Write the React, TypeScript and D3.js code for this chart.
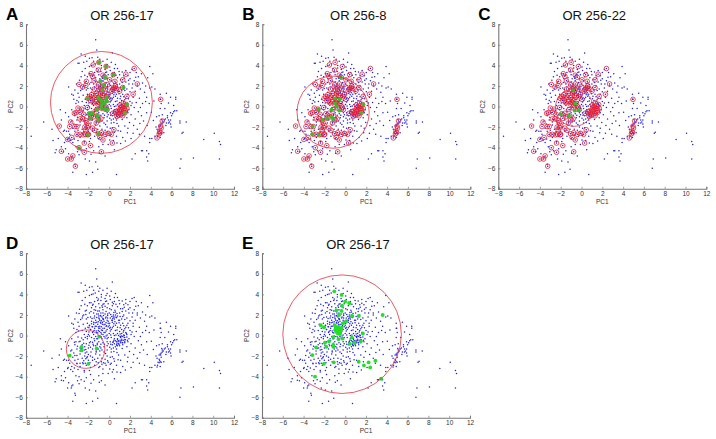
import React, { useRef, useEffect } from "react";
import * as d3 from "d3";

type Pt = [number, number];

const xTicks = [-8, -6, -4, -2, 0, 2, 4, 6, 8, 10, 12];
const yTicks = [-8, -6, -4, -2, 0, 2, 4, 6, 8];

// all samples
const cloud: Pt[] = [
  [-7.5,-2.9],[-6.3,-1.5],[-5.5,-2.2],[-5.4,-3.3],[-5.1,-4.2],[-5.2,-4.5],[-4.6,-1.3],[-4.7,-.3],[-4.3,-3.5],[-4.4,-4.4],
  [-3.9,-4.6],[-3.6,-4.9],[-3.5,-6.4],[-3.3,-5.6],[-2.3,-5.1],[-4.9,-3.1],[-4.6,-3.9],[-4.2,-4.1],[-4.1,-2.4],[-4.3,-2.3],
  [-4.4,-2.4],[-3.9,-2.4],[-3.8,-2.7],[-3.7,-3.3],[-3.5,-3.5],[-3.2,-3.9],[-2.9,-4.7],[-2.7,-4.3],[-1.9,-5.3],[-1.3,-5.4],
  [-1.1,-6.1],[-2.2,-6.6],[-1.6,-6.4],[.7,-6.6],[-.4,-4.8],[-1.5,-4.3],[-1,-3.9],[-.1,-3.7],[.5,-4.2],[1.1,-3.6],
  [2.2,-5.1],[2.5,-4.6],[3.1,-4.3],[3.2,-4.3],[3.6,-4.3],[3.6,-4.9],[3.7,-5.3],[3.8,-4.6],[3.9,-3.5],[4.1,-3.1],
  [3.9,-3.1],[4.4,-2.9],[4.7,-2.6],[4.8,-2.3],[4.5,-2],[4.6,-2.2],[4.8,-1.9],[4.9,-1.8],[5,-1.7],[5.1,-1.6],
  [5.2,-1.5],[5.3,-1.3],[5.4,-1.2],[5.6,-1.1],[5.7,-1.3],[5.8,-1.5],[5.9,-1.3],[5.7,-1.6],[5.5,-1.6],[5.9,-1.7],
  [6,-.9],[6.1,-.7],[6.2,-.5],[6.3,-.4],[6.5,-.4],[5.9,-.6],[5.6,-.9],[6.4,.9],[6.4,.7],[5.9,.9],
  [5.5,1.3],[4.9,.7],[4.9,1.2],[5,.3],[4.9,-.2],[4.8,-.9],[5.1,-.8],[5,-2.6],[4.9,-3],[6.8,-1.4],
  [6.8,-1.6],[7.4,-1.5],[7.1,-2.5],[7,-2.6],[6.9,-5.1],[6.8,-6],[8.1,-5],[9.1,-3.2],[10.1,-2.6],[10.6,-3.4],
  [10.7,-3.7],[10.6,-5.1],[3.9,3.9],[4.2,3.2],[3.7,2.8],[3.5,2],[3.9,1.8],[4.1,1.9],[3.4,1.4],[3.6,.9],
  [3,1.7],[3.2,2.3],[2.8,2.9],[2.6,3.3],[2.2,3.6],[2.7,2],[2.4,2.5],[2.2,1.8],[2.9,.8],[3.2,.3],
  [3.6,-.6],[3.1,-.9],[2.8,-.5],[3.3,-1.4],[2.5,-1.2],[2.7,-2.2],[2.3,-2.6],[2.1,-3.1],[2.9,-2.7],[3.4,-2.9],
  [1.8,-2.1],[1.5,-1.9],[1.1,-2.4],[.7,-2.9],[1.3,-3],[.4,-3.3],[.9,-1.9],[.2,-1.6],[-.2,-2],[-.5,-1.6],
  [-.9,-1.9],[-1.3,-1.8],[-1.8,-2],[-2.3,-1.7],[-2.8,-1.8],[-3.3,-2.4],[-3.6,-1.4],[-3.9,-1],[-4.2,-.6],[-3.6,-.3],
  [-3.2,.3],[-3.1,.6],[-3.4,.7],[-2.9,.9],[-3,1.3],[-3.3,1.6],[-3.9,1.9],[-3.6,1.2],[-2.7,2.9],[-2.6,3.4],
  [-2.3,4.9],[-2.7,5.1],[-1.9,4.7],[-2.9,4.2],[-3,4.2],[-2.3,3.7],[-1.9,3.9],[-1.2,5.5],[-1.3,6.5],[.3,5.2],
  [-1.1,4.8],[-.9,4.6],[-.6,4.4],[-.2,4.6],[.2,4.3],[.6,4.1],[.8,3.7],[-1.5,4.4],[-1.7,4],[-1.2,3.7],
  [-.8,3.4],[-.4,3.6],[.1,3.5],[.5,3.3],[1,3.1],[1.4,3],[1.8,3],[2,2.7],[1.6,2.4],[1.1,2.6],
  [.8,2.8],[.3,2.9],[-.1,3.1],[-.5,3.1],[-1,3.1],[-1.4,3.3],[-1.9,3.2],[-2.1,2.9],[-1.7,2.7],[-1.3,2.8],
  [-.9,2.7],[-.6,2.5],[-.2,2.7],[.2,2.5],[.6,2.3],[1,2.2],[1.4,2],[1.9,2.2],[1.7,1.7],[1.2,1.6],
  [.8,1.9],[.4,2],[0,2.2],[-.4,2.1],[-.8,2.2],[-1.1,2.4],[-1.5,2.2],[-1.9,2.2],[-2.3,2.4],[-2.6,1.7],
  [-2.2,1.6],[-1.8,1.8],[-1.4,1.9],[-1,1.9],[-.7,1.8],[-.3,1.8],[.1,1.7],[.5,1.6],[.9,1.5],[1.3,1.2],
  [1.8,1.2],[2.3,.9],[2,.5],[1.6,.8],[1.1,1],[.7,1.2],[.3,1.3],[-.1,1.4],[-.5,1.4],[-.9,1.5],
  [-1.3,1.5],[-1.7,1.4],[-2.1,1.2],[-2.5,1.1],[-2.6,.5],[-2.2,.4],[-1.9,1],[-1.5,1.1],[-1.1,1.1],[-.8,1.2],
  [-.4,1.1],[0,1],[.4,.9],[.8,.8],[1.2,.6],[.6,.5],[.2,.6],[-.2,.6],[-.6,.7],[-1,.7],
  [-1.4,.7],[-1.8,.6],[-2.4,.1],[-2,.1],[-1.6,.3],[-1.2,.3],[-.8,.3],[-.4,.3],[0,.2],[.4,.2],
  [.8,.2],[1.2,.2],[1.6,.3],[2.1,.1],[2.4,-.1],[1.9,-.3],[1.5,-.2],[1.1,-.2],[.8,-.3],[.5,-.3],
  [.2,-.2],[-.1,-.2],[-.5,-.1],[-.9,-.1],[-1.3,-.1],[-1.7,-.2],[-2.1,-.3],[-2.5,-.4],[-2.9,-.6],[-3.3,-.9],
  [-2.6,-.9],[-2.2,-.8],[-1.8,-.6],[-1.4,-.5],[-1,-.6],[-.6,-.7],[-.2,-.6],[.1,-.6],[.4,-.6],[.7,-.6],
  [.9,-.5],[1.2,-.5],[1.5,-.4],[1.8,-.6],[2.1,-.8],[.3,-.9],[.5,-.8],[.7,-.9],[.9,-.8],[1.1,-.7],
  [1.3,-.7],[1.5,-.7],[.6,-1.1],[.8,-1],[1,-1],[.4,-1.2],[.7,-1.3],[.2,-1.3],[-.2,-1],[-.5,-1.1],
  [-.9,-1.1],[-1.3,-1],[-1.6,-1.3],[-2,-1.2],[-2.4,-1.4],[-2.8,-1.5],[-3.1,-1.3],[-3.4,-1.7],[-.9,-1.5],[-.2,-1.4],
  [.1,-2.1],[-.4,-2.3],[-.7,-2.2],[-1.1,-2.2],[-1.6,-2.4],[-2,-2.4],[-2.6,-2.2],[-3,-2.3],[-2.8,-3],[-2.2,-2.9],
  [-1.8,-3.1],[-1.4,-2.9],[-1,-3.1],[-.7,-2.8],[-.3,-2.9],[.1,-2.8],[.5,-2.5],[-2.4,-3.4],[-1.9,-3.4],[-3,-3.3],
  [-1,1.7],[-.6,1.6],[-.2,1.5],[.3,1.5],[-.7,2.9],[-1.2,2.1],[-.9,.9],[-.3,.9],[.1,.8],[.6,1],
  [1,.4],[1.4,.5],[1.7,.1],[1.3,-.1],[.9,0],[.5,0],[-.7,-.3],[-1.1,-.3],[-1.5,.1],[-2.3,.7],
  [2.5,1.5],[2.6,.4],[3,-.1],[3.5,.5],[4.4,1.7],[3.1,3.2],[2,3.3],[1.6,3.5],[.5,3.7],[-.2,4.1],
  // second pass over the dense middle and the fringe
  [-2.45,4.3],[-2.15,4.4],[-1.65,4.75],[-1.35,4.15],[-.75,4],[.05,3.85],[.95,3.4],[1.25,3.35],[1.85,2.55],[2.25,2.2],
  [2.55,2.85],[1.45,2.75],[.65,3.05],[-.25,3.35],[-.65,2.75],[-1.55,3.05],[-2.35,3.05],[-2.85,2.55],[-3.15,2.2],[-3.45,1.1],
  [-2.95,.45],[-2.75,1.55],[-2.45,2],[-2.05,1.75],[-1.65,1.65],[-1.2,1.75],[-.85,1.95],[-.55,1.95],[-.15,1.95],[.25,1.85],
  [.7,1.75],[1.05,1.85],[1.5,1.55],[2,1.45],[1.4,.95],[.95,1.25],[.45,1.15],[.05,1.2],[-.3,1.25],[-.65,1.3],
  [-1.05,1.35],[-1.5,1.3],[-1.95,.75],[-1.65,.85],[-1.25,.9],[-.75,.85],[-.45,.7],[-.1,.85],[.3,.75],[.75,.55],
  [1.05,.75],[1.5,.65],[1.85,.75],[2.2,.35],[.1,.45],[-.3,.45],[-.65,.5],[-1.05,.5],[-1.45,.5],[-1.95,.35],
  [-2.3,-.2],[-1.9,-.05],[-1.45,-.3],[-1.05,-.05],[-.6,.1],[-.2,.05],[.15,.05],[.65,.05],[1.05,-.1],[1.45,0],
  [1.75,-.45],[1.35,-.45],[1.05,-.6],[.75,-.75],[.45,-.45],[.15,-.85],[-.1,-.8],[-.45,-.85],[-.8,-.85],[-1.15,-.75],
  [-1.55,-.85],[-1.95,-.95],[-2.35,-1.1],[-2.7,-1.25],[-3.05,-1.05],[-3.5,-2.1],[-3.1,-2.75],[-2.55,-2.65],[-2.15,-2.15],[-1.75,-1.6],
  [-1.25,-1.5],[-.7,-1.4],[-.35,-1.75],[.05,-1.15],[.45,-1.55],[.75,-1.65],[1.25,-1.25],[1.7,-1.1],[1.95,-1.55],[2.35,-1.85],
  [2.95,-1.65],[3.65,-1.85],[4.25,-1.35],[4.05,-.55],[4.3,.55],[3.85,.3],[4.55,-1],[5.35,-.2],[5.7,.35],[6.2,.1],
  [5.25,-2.55],[5.45,-1.85],[5.05,-1.25],[5.95,-2],[4.65,-2.9],[.85,-2.35],[.3,-2.05],[-.15,-2.45],[-.55,-2.65],[-1.25,-2.55],
  [-1.85,-2.65],[-2.45,-2.45],[-3.35,-3.15],[-3.95,-3.1],[-3.05,-4.4],[-2.2,-4.1],[-1.75,-4.65],[-.95,-4.55],[-.6,-3.7],[.05,-3.25],
  [.75,-3.55],[1.55,-3.35],[1.75,-2.55],[-.75,3.75],[-1.1,3.4],[-.35,3.3],[.3,3.25],[-.95,2.4],[-.3,2.35],[.45,2.25],
  [-.55,1.55],[-1.3,2.45],[-1.75,2.35],[.15,2.05],[.75,2.15],[1.25,2.35],[-.75,1.45],[-.15,1.7],[.55,1.35],[-1.35,1.25],
];

// samples circled in red in A, B and C
const ringed: Pt[] = [
  [-4.8,-1.9],[-4.6,-4.35],[-4,-3.2],[-4,-5.1],[-3.65,-5.1],[-3.5,-4.8],[-3.25,-5.8],[-2.9,-4],[-2.4,-4.45],[-2.4,-3.55],
  [-1.8,-3.8],[-.75,-4.4],[.3,-3.55],[-.6,-3.25],[-.9,-3],[-1.05,-2.65],[-.4,-2.7],[-.1,-2.6],[.2,-2.7],[.45,-2.25],
  [-1.4,-2.3],[-2,-2.7],[-2.3,-2.7],[-2.8,-2.7],[-3.1,-2.7],[-3.6,-3],[-3.8,-1.95],[-3.3,-1.95],[-3.1,-1.95],[-3.7,-1.5],
  [-2.8,-1.2],[-2.55,-1.2],[-2.25,-1.35],[-2,-1.85],[-2.25,-2.25],[-2.1,-2.05],[-3.2,-.6],[-3,-.15],[-2.65,-.25],[-2.8,-.55],
  [-2.9,2.15],[-2.2,2.45],[-2.25,2.05],[-2.55,1.9],[-2.05,.8],[-1.8,.6],[-1.55,.4],[-1.75,3.2],[-1.6,2.95],[-1.45,2.5],
  [-1.55,4.05],[-1,4.3],[-1.05,3.55],[-.3,3.9],[-.6,3.05],[-.4,2.85],[.05,2.6],[.55,2.45],[.4,3.1],[1.6,3.15],
  [1.3,2.6],[2.4,3.7],[2.7,2.2],[2.3,1.2],[1.3,1.85],[.4,1.8],[.55,1.8],[1.65,.2],[1.35,.35],[1.2,-.05],
  [4.95,.7],[5.1,-1.4],[4.95,-1.9],[4.85,-2.4],[4.8,-2.65],[4.6,-3.05],[-1.05,2.1],[-.8,1.9],[-.95,1.6],[-1.2,1.3],
  [-.6,2.2],[-.35,1.7],[-.15,2.1],[.25,1.5],[-1.35,.9],[-1.05,.85],[-.9,.7],[-.75,.55],[-.25,.95],[-.5,1.05],
  [.05,.7],[-1.25,.45],[-.5,.3],[-.75,.15],[-.3,-.05],[-1.2,-.3],[-.75,-.15],[-.4,-.25],[-.2,-.3],[-1.9,-.7],
  [-1.6,-.65],[-1.8,-1.15],[-1.15,-.9],[-1.05,-1.3],[-1.5,-1],[-.8,-1.2],[.6,-.5],[.85,-.6],[1.05,-.45],[1.25,-.7],
  [1.5,-.6],[.95,-.85],[1.2,-.35],[1.45,-.2],[.75,-.95],[1.7,-.15],[1.05,.15],[-.75,-2.55],[-1.6,-2.1],[-2.45,-.75],
  [-2.1,-.1],[-3.35,-.65],[-2.05,-2.75],[1,1.5],[1.7,1],[.6,2],[-.1,1.2],[-.65,1.1],[-1.45,1.7],[-1.7,1.15],
  [5,-2.1],[4.9,-2.55],[-2.35,-2],[-2.15,-1.6],[-2.5,-2.75],[-1.25,-1.6],[-.6,1.65],[-.85,1.3],[.7,1.75],[.35,1.65],
  [-1.1,.25],[-.95,.4],[-1.6,.85],[-1.9,.95],[1.55,-.4],[1.3,-.9],[1.1,-.1],[1.4,.05],[.8,-.4],[.35,-.65],
];

const greenA: Pt[] = [
  [-1,4.3],[-.3,3.9],[.4,3.1],[-.4,2.85],[-.85,2.5],[-.5,2.1],[-.65,1.6],[1.35,1.85],[-2.05,.8],[-1.05,.85],
  [-.9,.7],[-.75,.55],[-.25,.95],[-.3,.65],[-.5,.3],[-.75,.15],[-.2,.5],[1.7,.2],[1.5,-.6],[-1.2,-.3],
  [-.75,-.15],[-.4,-.25],[-.2,-.3],[-1.9,-.7],[-1.6,-.65],[-1.8,-1.15],[-1.15,-.9],[-1.05,-1.3],[-2.05,-2.75],[-1.05,-2.65],
  [-2.9,-4.05],
];
const greenB: Pt[] = [
  [-.45,2.85],[-1,.8],[-.55,.7],[-1,.3],[-.85,0],[-1.35,-.3],[-.6,-.4],[-2.6,-.25],[1.7,.2],[1.5,-.6],
  [-2.2,-1.3],[-1.8,-1.15],[-1.35,-1],[-1.2,-1.2],[-3.15,-1.95],[-3.2,-2.7],[-2.55,-2.75],
];
const greenC: Pt[] = [[-.8,1.6],[-.6,.3],[-.25,-.35],[-.65,-.4],[-2,-.75],[-1.2,-.9]];
const greenD: Pt[] = [[-.95,-.1],[-2.65,-1.1],[-2.65,-1.45],[-1.2,-1.25],[-3.8,-1.95],[-2,-2.75]];
const greenE: Pt[] = [
  [-1.05,4.3],[-.35,3.95],[0,3.3],[.4,3.15],[-.3,2.9],[-.85,2.45],[-.35,2.4],[-.6,2],[.65,1.9],[1.3,1.9],
  [3.6,2],[.1,1.4],[-.2,1.2],[-2.35,1],[-2.05,.8],[-1,1],[-.65,.85],[-.95,.6],[-.6,.5],[-.35,.75],
  [-.85,.35],[-.5,.3],[1.7,.2],[.65,-.2],[-1.15,-.15],[-.65,-.35],[-.25,-.3],[1.5,-.55],[.45,-.8],[.9,-.7],
  [-1.95,-.7],[-1.55,-.55],[-1.15,-.9],[-1.15,-1.1],[-1.8,-1.1],[-2.8,-1.15],[-3.15,-1.9],[-2.05,-2.75],[-1.1,-2.6],[1.3,-2.55],
  [2.25,-2.6],[2.9,-2.45],[1.8,-2.9],[2.4,-3.1],[3.45,-4.2],[-2.9,-4],
  [-.75,.6],[-.45,.55],[-.7,.2],[-.5,.15],[-.8,.75],
];

const panels = [
  { letter: "A", title: "OR 256-17", left: 26, top: 24.3, rings: true, green: greenA, greenFill: "#38bc2a", circle: [-.75, .4, 4.9] },
  { letter: "B", title: "OR 256-8", left: 262.3, top: 24.3, rings: true, green: greenB, greenFill: "#38bc2a", circle: [-1.19, -.55, 3.47] },
  { letter: "C", title: "OR 256-22", left: 498.3, top: 24.3, rings: true, green: greenC, greenFill: "#38bc2a", circle: [-.7, -.1, 1.8] },
  { letter: "D", title: "OR 256-17", left: 26, top: 253.3, rings: false, green: greenD, greenFill: "#22e022", circle: [-2.27, -1.32, 1.85] },
  { letter: "E", title: "OR 256-17", left: 262, top: 253.3, rings: false, green: greenE, greenFill: "#22e022", circle: [-.3, .13, 5.7] },
];

const W = 208;
const H = 164.5;
const FONT = "'Liberation Sans', Arial, sans-serif";

const App: React.FC = () => {
  const svgRef = useRef<SVGSVGElement>(null);

  useEffect(() => {
    const svg = d3.select(svgRef.current);
    svg.selectAll("*").remove();
    svg.append("rect").attr("width", 716).attr("height", 439).attr("fill", "white");

    const x = d3.scaleLinear().domain([-8, 12]).range([0, W]);
    const y = d3.scaleLinear().domain([-8, 8]).range([H, 0]);
    const allPoints = cloud.concat(ringed);

    panels.forEach(p => {
      const g = svg.append("g").attr("transform", `translate(${p.left}, ${p.top})`);

      // axes
      const xAxis = g
        .append("g")
        .attr("transform", `translate(0, ${H})`)
        .call(d3.axisBottom(x).tickValues(xTicks).tickFormat(d3.format("d")).tickSize(-2).tickPadding(2.5));
      const yAxis = g
        .append("g")
        .call(d3.axisLeft(y).tickValues(yTicks).tickFormat(d3.format("d")).tickSize(-2).tickPadding(3));
      [xAxis, yAxis].forEach(a => {
        a.select(".domain").attr("stroke", "#777").attr("stroke-width", 1.1);
        a.selectAll(".tick line").attr("stroke", "#777").attr("stroke-width", 0.7);
        a.selectAll("text").attr("fill", "#333").style("font-size", "6.5px").style("font-family", FONT);
      });

      // points
      g.append("g")
        .selectAll("circle")
        .data(allPoints)
        .enter()
        .append("circle")
        .attr("cx", d => x(d[0]))
        .attr("cy", d => y(d[1]))
        .attr("r", 0.75)
        .attr("fill", "#2020e8");

      if (p.rings) {
        g.append("g")
          .selectAll("circle")
          .data(ringed)
          .enter()
          .append("circle")
          .attr("cx", d => x(d[0]))
          .attr("cy", d => y(d[1]))
          .attr("r", 2.3)
          .attr("fill", "none")
          .attr("stroke", "#ec1c2c")
          .attr("stroke-width", 0.8);
      }

      g.append("g")
        .selectAll("circle")
        .data(p.green)
        .enter()
        .append("circle")
        .attr("cx", d => x(d[0]))
        .attr("cy", d => y(d[1]))
        .attr("r", 1.9)
        .attr("fill", p.greenFill);

      // fitted circle
      g.append("circle")
        .attr("cx", x(p.circle[0]))
        .attr("cy", y(p.circle[1]))
        .attr("r", x(p.circle[2]) - x(0))
        .attr("fill", "none")
        .attr("stroke", "#e8303c")
        .attr("stroke-width", 0.8);

      // labels
      g.append("text")
        .attr("x", 96)
        .attr("y", -4)
        .attr("text-anchor", "middle")
        .style("font-size", "13px")
        .style("font-family", FONT)
        .attr("fill", "#111")
        .text(p.title);
      g.append("text")
        .attr("x", -20)
        .attr("y", -4.5)
        .style("font-size", "17px")
        .style("font-weight", "bold")
        .style("font-family", FONT)
        .attr("fill", "#000")
        .text(p.letter);
      g.append("text")
        .attr("x", W / 2)
        .attr("y", H + 15.5)
        .attr("text-anchor", "middle")
        .style("font-size", "6.5px")
        .style("font-family", FONT)
        .attr("fill", "#333")
        .text("PC1");
      g.append("text")
        .attr("transform", `translate(-13, ${H / 2}) rotate(-90)`)
        .attr("text-anchor", "middle")
        .style("font-size", "6.5px")
        .style("font-family", FONT)
        .attr("fill", "#333")
        .text("PC2");
    });
  }, []);

  return <svg ref={svgRef} width={716} height={439} style={{ position: "absolute", left: 0, top: 0 }} />;
};

export default App;
